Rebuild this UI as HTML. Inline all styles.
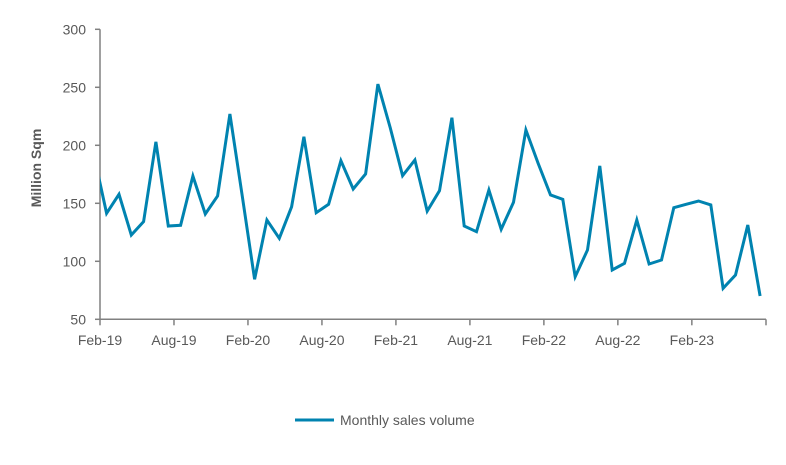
<!DOCTYPE html>
<html><head><meta charset="utf-8"><style>
body{margin:0;background:#fff;width:786px;height:460px;overflow:hidden}
text{font-family:"Liberation Sans",sans-serif;fill:#595959}
</style></head><body>
<svg id="chart" width="786" height="460" xmlns="http://www.w3.org/2000/svg">
<defs><clipPath id="plotclip"><rect x="100" y="0" width="680" height="460"/></clipPath></defs>
<g id="axes"></g>
<g id="series" clip-path="url(#plotclip)"></g>
<text transform="translate(41,168) rotate(-90)" text-anchor="middle" font-size="14" font-weight="bold">Million  Sqm</text>
<g>
<line x1="295" y1="420" x2="334" y2="420" stroke="#0083B0" stroke-width="3"/>
<text x="340" y="425" font-size="14">Monthly sales volume</text>
</g>
</svg>
<script>
const values=[190,141.4,157.8,122.7,134.2,203,130.4,131,173.5,140.8,156.3,227,156,84.5,135.6,119.8,147,207.4,141.9,149.1,186.7,162.3,175.3,252.8,215.3,173.8,187.3,143.3,160.9,223.8,130.4,125.5,161.5,127.6,150.9,213.2,184.3,157.2,153.4,86.7,109.7,182.2,92.5,98.3,135.6,97.7,101.1,146.2,149.1,152,148.6,76.7,88.2,131.3,70.1];
const yTicks=[50,100,150,200,250,300];
const xTickLabels=["Feb-19","Aug-19","Feb-20","Aug-20","Feb-21","Aug-21","Feb-22","Aug-22","Feb-23"];
const NS="http://www.w3.org/2000/svg";
const X0=100,X1=766,Y50=319.3,YPU=290/250,PM=12.33;
function xPt(i){return 94.3+PM*i;}
function y(v){return Y50-(v-50)*YPU;}
function xTick(k){return X0+k*6*PM;}
const axes=document.getElementById('axes');
function mk(tag,attrs,parent){const e=document.createElementNS(NS,tag);for(const k in attrs)e.setAttribute(k,attrs[k]);parent.appendChild(e);return e;}
let e=mk('line',{x1:X0,y1:y(300),x2:X0,y2:Y50,stroke:'#808080','stroke-width':1.5},axes);


e=mk('line',{x1:X0,y1:Y50,x2:X1,y2:Y50,stroke:'#808080','stroke-width':1.5},axes);


yTicks.forEach(v=>{
 let t=mk('line',{x1:X0-5,y1:y(v),x2:X0,y2:y(v),stroke:'#808080','stroke-width':1.5},axes);
 
 
 let l=mk('text',{x:86,y:y(v)+5,'text-anchor':'end','font-size':14},axes);
 
 
 l.textContent=v;
});
xTickLabels.forEach((s,k)=>{
 const xx=xTick(k);
 let t=mk('line',{x1:xx,y1:Y50,x2:xx,y2:Y50+6,stroke:'#808080','stroke-width':1.5},axes);
 
 
 let l=mk('text',{x:xx,y:345,'text-anchor':'middle','font-size':14},axes);
 
 
 l.textContent=s;
});
e=mk('line',{x1:X1,y1:Y50,x2:X1,y2:Y50+6,stroke:'#808080','stroke-width':1.5},axes);


const pts=values.map((v,i)=>xPt(i).toFixed(1)+','+y(v).toFixed(1)).join(' ');
const pl=mk('polyline',{points:pts,fill:'none',stroke:'#0083B0','stroke-width':3,'stroke-linejoin':'miter'},document.getElementById('series'));


</script>
</body></html>
